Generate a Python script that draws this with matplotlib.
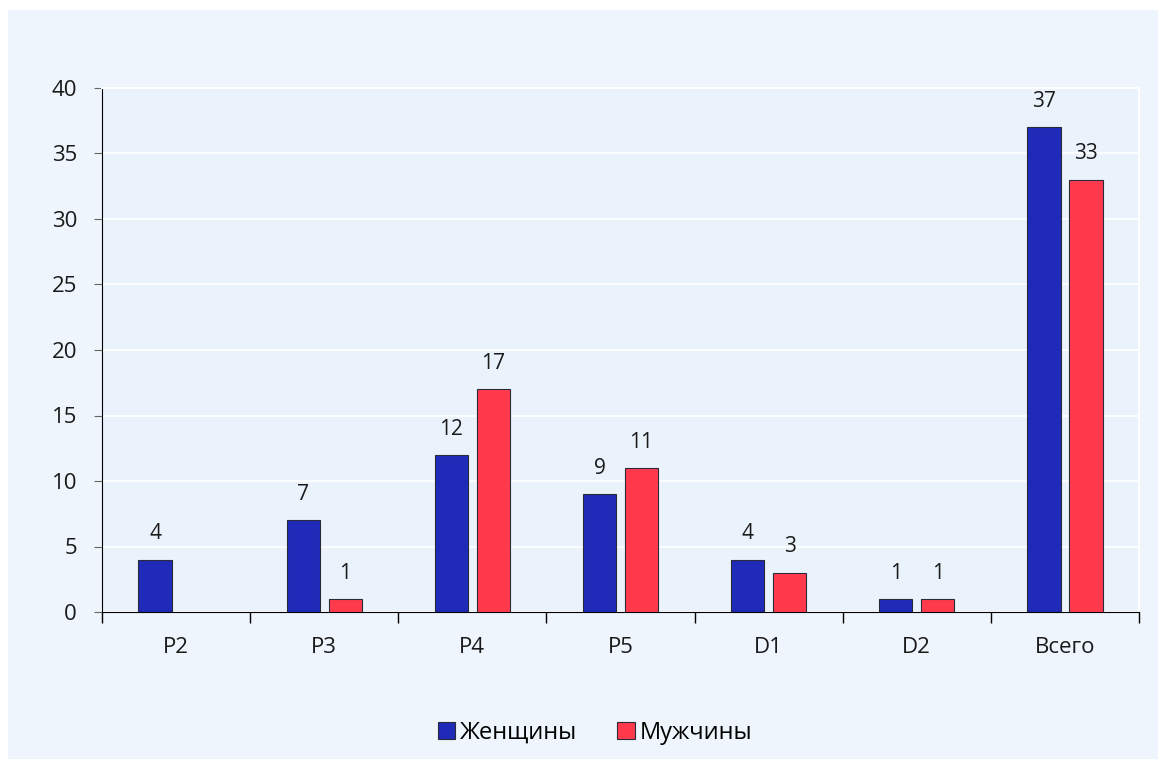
import matplotlib
matplotlib.use("Agg")
import matplotlib.pyplot as plt
from matplotlib.patches import Rectangle
import numpy as np

categories = ["P2", "P3", "P4", "P5", "D1", "D2", "Всего"]
women = [4, 7, 12, 9, 4, 1, 37]
men = [0, 1, 17, 11, 3, 1, 33]
series_names = ["Женщины", "Мужчины"]

plt.rcParams["font.family"] = ["Open Sans", "DejaVu Sans"]

W, H = 1166, 767
fig = plt.figure(figsize=(W / 100, H / 100), dpi=100, facecolor="white")
fig.patches.append(Rectangle((8 / W, 8 / H), (W - 16) / W, (H - 18) / H,
                             transform=fig.transFigure, facecolor="#EEF5FC",
                             edgecolor="none", zorder=-10))

ax = fig.add_axes([102 / W, 1 - 612 / H, (1139 - 102) / W, (612 - 88) / H])
ax.set_facecolor("#EAF3FC")

x = np.arange(len(categories))
bw = 0.225
off = 0.142
blue = "#1F2AB8"
red = "#FF3A4C"

b1 = ax.bar(x - off, women, bw, color=blue, edgecolor="#2A2A3A", linewidth=0.8,
            label=series_names[0], zorder=3)
men_vals = [v if v > 0 else np.nan for v in men]
b2 = ax.bar(x + off, men_vals, bw, color=red, edgecolor="#2A2A3A", linewidth=0.8,
            label=series_names[1], zorder=3)

for xi, v in zip(x - off, women):
    ax.annotate(str(v), (xi, v), xytext=(0, 11), textcoords="offset points",
                ha="center", va="bottom", fontsize=15, color="#1a1a1a")
for xi, v in zip(x + off, men):
    if v > 0:
        ax.annotate(str(v), (xi, v), xytext=(0, 11), textcoords="offset points",
                    ha="center", va="bottom", fontsize=15, color="#1a1a1a")

ax.set_xlim(-0.5, len(categories) - 0.5)
ax.set_ylim(0, 40)
ax.set_yticks(np.arange(0, 41, 5))
ax.tick_params(axis="y", labelsize=16, length=6, color="#666666", pad=12,
               labelcolor="#1a1a1a")
ax.yaxis.grid(True, color="white", linewidth=1.3, zorder=0)
ax.set_axisbelow(True)

ax.set_xticks(x)
ax.set_xticklabels(categories)
ax.tick_params(axis="x", which="major", length=0, labelsize=16, pad=18,
               labelcolor="#1a1a1a")
ax.set_xticks(np.arange(-0.5, len(categories), 1.0), minor=True)
ax.tick_params(axis="x", which="minor", length=8, color="black", width=1)

ax.spines["left"].set_color("black")
ax.spines["bottom"].set_color("black")
ax.spines["top"].set_color("white")
ax.spines["right"].set_color("white")
ax.spines["top"].set_linewidth(1.5)
ax.spines["right"].set_linewidth(1.5)

leg = fig.legend(handles=[b1, b2], labels=series_names, loc="center",
                 bbox_to_anchor=(595 / W, 1 - 733 / H), ncol=2, frameon=False,
                 fontsize=17, handlelength=0.75, handleheight=0.75,
                 handletextpad=0.2, columnspacing=1.7)

fig.savefig("out.png", dpi=100, facecolor=fig.get_facecolor())
